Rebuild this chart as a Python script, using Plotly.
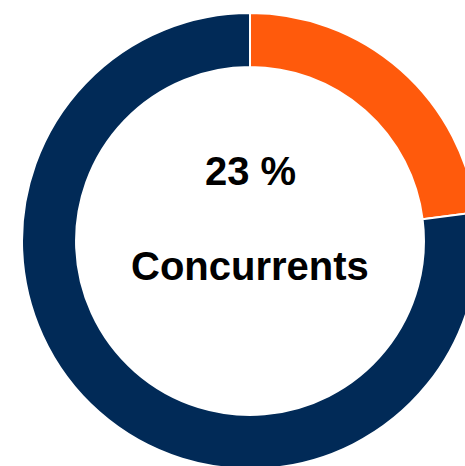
import plotly.graph_objects as go

labels = ["Concurrents", "Autres"]
values = [23, 77]
colors = ["#FF5A0C", "#012A57"]
center_value = "23 %"
center_label = "Concurrents"

W, H = 500, 482
fig = go.Figure(go.Pie(
    labels=labels,
    values=values,
    hole=0.763,
    sort=False,
    direction="clockwise",
    rotation=0,
    marker=dict(colors=colors, line=dict(color="white", width=2)),
    textinfo="none",
    hoverinfo="skip",
    showlegend=False,
    domain=dict(x=[22 / W, 478 / W], y=[13 / H, 469 / H]),
))

font = dict(family="Liberation Sans, Arial, sans-serif", size=40, color="black")
fig.add_annotation(text="<b>" + center_value + "</b>", x=0.5, y=1 - 171 / H,
                   xref="paper", yref="paper", showarrow=False, font=font,
                   xanchor="center", yanchor="middle")
fig.add_annotation(text="<b>" + center_label + "</b>", x=0.5, y=1 - 266 / H,
                   xref="paper", yref="paper", showarrow=False, font=font,
                   xanchor="center", yanchor="middle")

fig.update_layout(width=W, height=H, margin=dict(l=0, r=0, t=0, b=0),
                  paper_bgcolor="white", plot_bgcolor="white")

fig.write_html("out.html", config={"displayModeBar": False}, post_script=(
    "document.body.style.margin='0';"
    "document.body.style.overflow='hidden';"
    "document.documentElement.style.overflow='hidden';"
))
